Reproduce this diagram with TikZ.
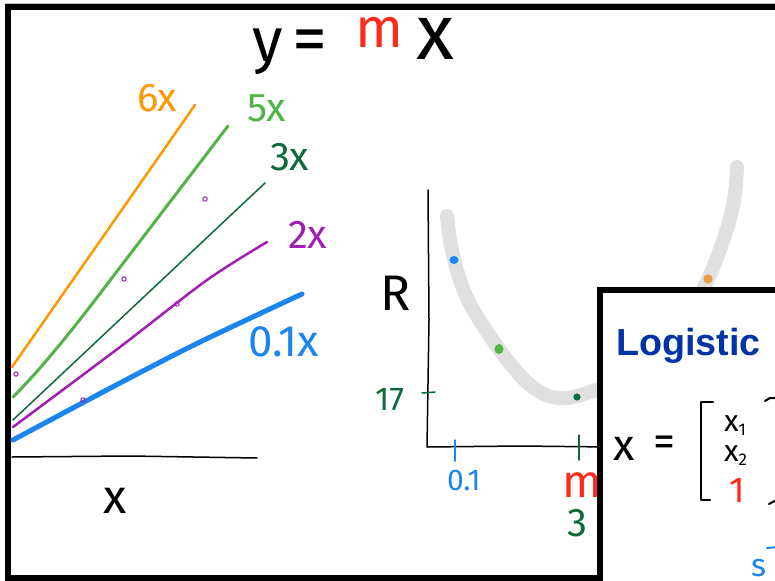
\documentclass[tikz,border=0pt]{standalone}
\usepackage{fontspec}
\setmainfont{Fira Sans}
\newfontfamily\logofont{Liberation Sans}
\newcommand\hsz[1]{\fontsize{#1}{#1}\selectfont}
\definecolor{cOrange}{RGB}{255,152,0}
\definecolor{cLGreen}{RGB}{82,180,70}
\definecolor{cDGreen}{RGB}{11,107,58}
\definecolor{cPurple}{RGB}{160,30,180}
\definecolor{cBlue}{RGB}{26,132,240}
\definecolor{cRed}{RGB}{255,42,26}
\definecolor{cLogo}{RGB}{0,51,165}
\definecolor{cDotOr}{RGB}{235,155,60}
\definecolor{cCurve}{RGB}{224,224,224}
\begin{document}
\begin{tikzpicture}[x=1pt,y=-1pt,
  lbl/.style={inner sep=0pt,outer sep=0pt,anchor=base west},
  ctr/.style={inner sep=0pt,outer sep=0pt,anchor=center},
  curveline/.style={line cap=round,line join=round},
  ring/.style={draw=cPurple,line width=1pt},
  frame/.style={draw=black,line width=6pt}]
\useasboundingbox (0,0) rectangle (775,580);
\clip (0,0) rectangle (775,580);
\fill[white] (0,0) rectangle (775,580);

% outer frame
\draw[black!25,line width=1.5pt] (5,3.5) -- (775,3.5);
\draw[frame] (8,7.5) rectangle (900,577.5);

% title
\node[lbl,font=\hsz{62}] (ty) at (252,62) {y};
\node[ctr,font=\hsz{70}] (teq) at (310,46) {=};
\node[lbl,font=\hsz{56},text=cRed] (tm) at (355,48) {m};
\node[lbl,font=\hsz{78}] (tx) at (416,60) {x};

% left chart
\draw[black,line width=1.5pt,curveline] (12,457) -- (130,456) -- (257,458);
\draw[cOrange,line width=2.5pt,curveline] (195,105) -- (12,367);
\draw[cLGreen,line width=3pt,curveline] (228,126) -- (105,287) .. controls (80,320) and (45,365) .. (13,397);
\draw[cDGreen,line width=1.5pt,curveline] (265,183) -- (13,420);
\draw[cPurple,line width=2.5pt,curveline] plot[smooth,tension=0.5] coordinates {(267,242) (207,280) (120,347) (13,427)};
\draw[cBlue,line width=5pt,curveline] plot[smooth,tension=0.5] coordinates {(302,294) (200,342) (120,383) (13,440)};
\draw[ring] (205,199) circle (2.2);
\draw[ring] (124,279) circle (2.2);
\draw[ring] (177,304) circle (2.2);
\draw[ring] (83,400) circle (2.2);
\draw[ring] (16,374) circle (2.2);

\node[lbl,font=\hsz{40},text=cOrange] (l6) at (137,112) {6x};
\node[lbl,font=\hsz{40},text=cLGreen] (l5) at (247,122) {5x};
\node[lbl,font=\hsz{40},text=cDGreen] (l3) at (270,170) {3x};
\node[lbl,font=\hsz{40},text=cPurple] (l2) at (288,248) {2x};
\node[lbl,font=\hsz{44},text=cBlue] (l01) at (248,356) {0.1x};
\node[lbl,font=\hsz{48}] (xax) at (103,513) {x};

% middle chart
\draw[cCurve,line width=14pt,curveline] plot[smooth,tension=0.6] coordinates {(447,216) (453,255) (468,300) (499,349) (530,385) (558,398) (590,392) (640,370) (685,320) (708,279) (725,235) (734,200) (737,167)};
\fill[cBlue] (454,260) ellipse (4.5 and 4);
\fill[cLGreen] (499,349) ellipse (4.5 and 5);
\fill[cDGreen] (577,397) circle (3.6);
\fill[cDotOr] (708,279) circle (4.6);

\draw[black,line width=1.5pt,curveline] (428,190) -- (429,320) -- (427,447) -- (520,446) -- (610,447);
\draw[cDGreen,line width=1.5pt,curveline] (422,393) -- (435,392);
\draw[cBlue,line width=1.5pt,curveline] (455,440) -- (455,461);
\draw[cDGreen,line width=1.5pt,curveline] (579,435) -- (579,460);
\node[lbl,font=\hsz{50}] (lR) at (380,310) {R};
\node[lbl,font=\hsz{33},text=cDGreen] (l17) at (375,410) {17};
\node[lbl,font=\hsz{30},text=cBlue] (lp1) at (447,490) {0.1};
\node[lbl,font=\hsz{46},text=cRed] (lm) at (562,497) {m};
\node[lbl,font=\hsz{40},text=cDGreen] (lthree) at (567,536) {3};

% inner box
\draw[frame,fill=white] (600,290) rectangle (900,700);
\node[lbl,font={\logofont\bfseries\hsz{37.7}},text=cLogo] (logi) at (616,355) {Logistic};
\node[lbl,font=\hsz{44}] (bx) at (613,460) {x};
\node[ctr,font=\hsz{44}] (beq) at (664,446) {=};
\draw[black,line width=2pt,line cap=round,line join=round] (713,402) -- (701,402) -- (701,500) -- (710,500);
\draw[black,line width=2pt,line cap=round,line join=round] (765,401) -- (770,398) -- (780,398);
\draw[black,line width=2pt,line cap=round] (769,504) -- (780,498);
\node[lbl,font=\hsz{30}] (x1) at (724,431) {x\raisebox{-0.15em}{\hsz{17}1}};
\node[lbl,font=\hsz{30}] (x2) at (724,461) {x\raisebox{-0.15em}{\hsz{17}2}};
\node[lbl,font=\hsz{36},text=cRed] (one) at (729,502) {1};
\node[lbl,font=\hsz{32},text=cBlue] (bs) at (751,576) {s};
\draw[cBlue,line width=2pt,line cap=round] (767,548) -- (777,547);
\end{tikzpicture}
\end{document}
